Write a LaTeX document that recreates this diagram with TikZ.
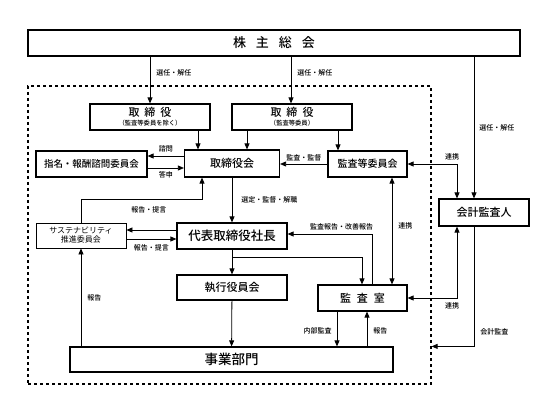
\documentclass[tikz,border=0pt]{standalone}
\usepackage{fontspec}
\setmainfont{Noto Sans CJK JP}[BoldFont={Noto Sans CJK JP Medium}]
\usepackage{tikz}
\usetikzlibrary{arrows.meta,positioning}

\tikzset{
  box/.style={draw, line width=1.2pt, inner sep=0pt, align=center, font=\bfseries\fontsize{11}{12}\selectfont},
  lbl/.style={font=\bfseries\fontsize{7}{8}\selectfont, inner sep=1pt},
  arr/.style={line width=0.8pt, -{Triangle[length=6pt,width=5pt]}},
  arrs/.style={line width=0.8pt, {Triangle[length=6pt,width=5pt]}-{Triangle[length=6pt,width=5pt]}},
}

\begin{document}
\begin{tikzpicture}[x=1pt, y=-1pt]
    \useasboundingbox (0,0) rectangle (539,404);

    % frame of the company
    \node[draw, dashed, line width=1.2pt, minimum width=403, minimum height=298] (frame) at (229.5,235) {};

    % boxes
    \node[box, minimum width=492, minimum height=26, font=\bfseries\fontsize{13}{14}\selectfont] (sh) at (274,43) {株\hspace{10pt}主\hspace{10pt}総\hspace{10pt}会};
    \node[box, minimum width=120, minimum height=26] (dirA) at (150,117) {取\hspace{5pt}締\hspace{5pt}役\\[-3pt]{\fontsize{6.3}{7}\selectfont （監査等委員を除く）}};
    \node[box, minimum width=120, minimum height=26] (dirB) at (292,117) {取\hspace{5pt}締\hspace{5pt}役\\[-3pt]{\fontsize{6.3}{7}\selectfont （監査等委員）}};
    \node[box, minimum width=111, minimum height=26, font=\bfseries\fontsize{9.5}{11}\selectfont] (nom) at (91.5,164) {指名・報酬諮問委員会};
    \node[box, minimum width=95, minimum height=27] (board) at (232,163.5) {取締役会};
    \node[box, minimum width=79, minimum height=26, font=\bfseries\fontsize{10}{11}\selectfont] (ac) at (367.5,164) {監査等委員会};
    \node[box, minimum width=90, minimum height=27] (ext) at (484,212.5) {会計監査人};
    \node[box, line width=0.8pt, minimum width=90, minimum height=25, font=\fontsize{8}{9}\selectfont] (sus) at (81,235.5) {サステナビリティ\\推進委員会};
    \node[box, minimum width=110, minimum height=26, font=\bfseries\fontsize{12.5}{13}\selectfont] (ceo) at (232,236) {代表取締役社長};
    \node[box, minimum width=110, minimum height=25] (exec) at (232,287.5) {執行役員会};
    \node[box, minimum width=89, minimum height=26] (audit) at (362.5,298) {監\hspace{6pt}査\hspace{6pt}室};
    \node[box, minimum width=323, minimum height=25, font=\bfseries\fontsize{13.5}{14}\selectfont] (biz) at (231.5,359.5) {事業部門};

    % shareholders
    \draw[arr] (sh.south -| dirA) -- node[lbl, pos=0.35, right=5pt] {選任・解任} (dirA);
    \draw[arr] ([xshift=-1]dirB.north |- sh.south) -- node[lbl, pos=0.35, right=5pt] {選任・解任} ([xshift=-1]dirB.north);
    \draw[arr] ([xshift=-10]ext.north |- sh.south) -- node[lbl, pos=0.5, right=4pt] {選任・解任} ([xshift=-10]ext.north);

    % directors
    \draw[arr] ([xshift=48]dirA.south) -- ([xshift=48]dirA.south |- board.north);
    \draw[arr] ([xshift=-45]dirB.south) -- ([xshift=-45]dirB.south |- board.north);
    \draw[arr] ([xshift=46]dirB.south) -- ([xshift=46]dirB.south |- ac.north);

    % board
    \draw[arr] ([yshift=7.5]board.west) -- node[lbl, above=2pt] {諮問} ([yshift=7.5]board.west -| nom.east);
    \draw[arr] ([yshift=-4.5]board.west -| nom.east) -- node[lbl, below=2pt] {答申} ([yshift=-4.5]board.west);
    \draw[arr] (ac.west) -- node[lbl, above=2pt] {監査・監督} (ac.west -| board.east);
    \draw[arr] (board) -- node[lbl, right=8pt] {選定・監督・解職} (ceo);

    % auditors
    \draw[arrs] (ac.east) -| node[lbl, pos=0.45, above=2pt] {連携} ([xshift=-27]ext.north);
    \draw[arrs] ([xshift=24.5]ac.south) -- node[lbl, pos=0.45, right=5pt] {連携} ([xshift=24.5]ac.south |- audit.north);
    \draw[arrs] (audit.east) -| node[lbl, pos=0.45, below=3pt] {連携} ([xshift=-27]ext.south);
    \draw[arr] ([xshift=-10]ext.south) |- node[lbl, pos=0.44, right=5pt] {会計監査} (biz.north -| frame.east);

    % president
    \draw[arr] ([yshift=6]ceo.west) -- ([yshift=6]ceo.west -| sus.east);
    \draw[arr] ([yshift=-3]ceo.west -| sus.east) -- node[lbl, below=4pt] {報告・提言} ([yshift=-3]ceo.west);
    \draw[arr] (sus.north) |- node[lbl, pos=0.78, below=6pt] {報告・提言} ([xshift=-30, yshift=-22]board.south) -- ([xshift=-30]board.south);
    \draw[arr] (ceo) -- (exec);
    \draw[arr] ([yshift=-8]ceo.south) -| ([xshift=-0.5]audit.north);
    \draw[arr] ([xshift=9.5]audit.north) |- node[lbl, pos=0.68, above=2pt] {監査報告・改善報告} ([yshift=2]ceo.east);

    % business units
    \draw[arr] (exec) -- (biz);
    \draw[arr] ([xshift=-25.5]audit.south) -- node[lbl, pos=0.55, left=4pt] {内部監査} ([xshift=-25.5]audit.south |- biz.north);
    \draw[arr] ([xshift=4.5]audit.south |- biz.north) -- node[lbl, pos=0.45, right=5pt] {報告} ([xshift=4.5]audit.south);
    \draw[arr] (biz.north -| sus) -- node[lbl, pos=0.5, right=5pt] {報告} (sus);
\end{tikzpicture}
\end{document}
